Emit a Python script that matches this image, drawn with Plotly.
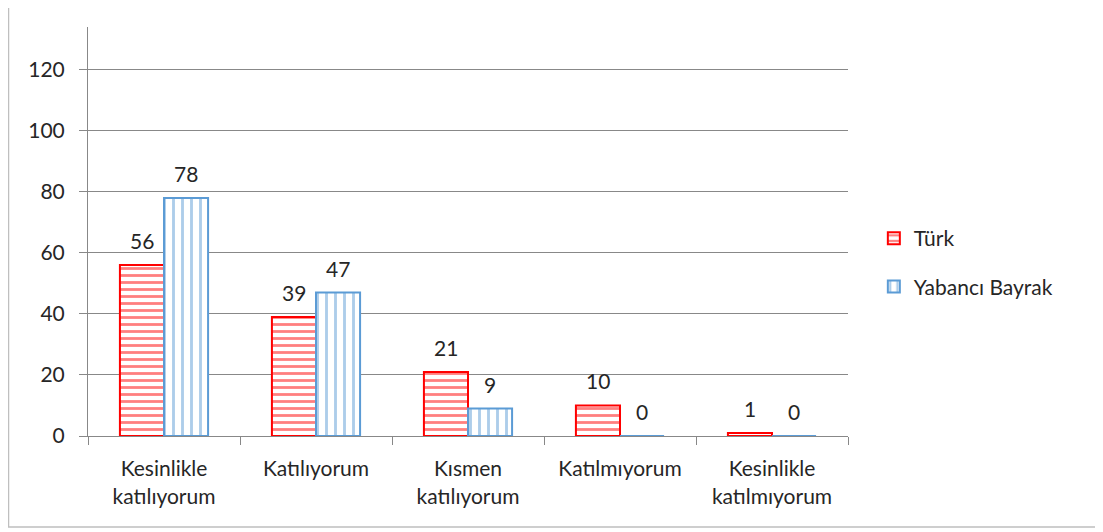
import plotly.graph_objects as go

categories = ["Kesinlikle<br>katılıyorum", "Katılıyorum", "Kısmen<br>katılıyorum",
              "Katılmıyorum", "Kesinlikle<br>katılmıyorum"]
turk = [56, 39, 21, 10, 1]
yabanci = [78, 47, 9, 0, 0]

font = dict(family="Lato, Open Sans, sans-serif", size=21, color="#262626")

fig = go.Figure()
fig.add_trace(go.Bar(
    name="Türk", x=categories, y=turk, legendgroup="a",
    marker=dict(color="white", line=dict(color="#ff0000", width=2),
                pattern=dict(shape="-", fgcolor="#ff0000", bgcolor="white", size=7, solidity=0.4)),
))
fig.add_trace(go.Bar(
    name="Yabancı Bayrak", x=categories, y=yabanci, legendgroup="b",
    marker=dict(color="white", line=dict(color="#5b9bd5", width=2),
                pattern=dict(shape="|", fgcolor="#5b9bd5", bgcolor="white", size=9, solidity=0.32)),
))

# data labels above each bar
for vals, shift in ((turk, -22), (yabanci, 22)):
    for c, v in zip(categories, vals):
        fig.add_annotation(x=c, y=v, text=str(v), showarrow=False, xshift=shift,
                           yanchor="bottom", yshift=10, font=font)

fig.update_layout(
    width=1103, height=532,
    plot_bgcolor="white", paper_bgcolor="white",
    margin=dict(l=80, r=263, t=19, b=104),
    font=font,
    bargap=0.42, bargroupgap=0,
    legend=dict(x=1.034, y=0.533, xanchor="left", yanchor="top", font=font,
                traceorder="grouped", tracegroupgap=18, bgcolor="rgba(0,0,0,0)"),
)
fig.update_yaxes(range=[0, 134], dtick=20, showgrid=True, gridcolor="#888888", gridwidth=1,
                 showline=True, linecolor="#888888", ticks="outside", ticklen=8,
                 tickcolor="#888888", zeroline=False, ticklabelstandoff=10)
fig.update_xaxes(showline=True, linecolor="#888888", ticks="outside", ticklen=8,
                 tickcolor="#888888", tickson="boundaries", ticklabelstandoff=14)
fig.add_shape(type="rect", xref="paper", yref="paper",
              x0=-0.1046, x1=1.3276, y0=-0.2225, y1=1.1,
              line=dict(color="#bfbfbf", width=1.5), layer="below")

fig.write_html("out.html")
